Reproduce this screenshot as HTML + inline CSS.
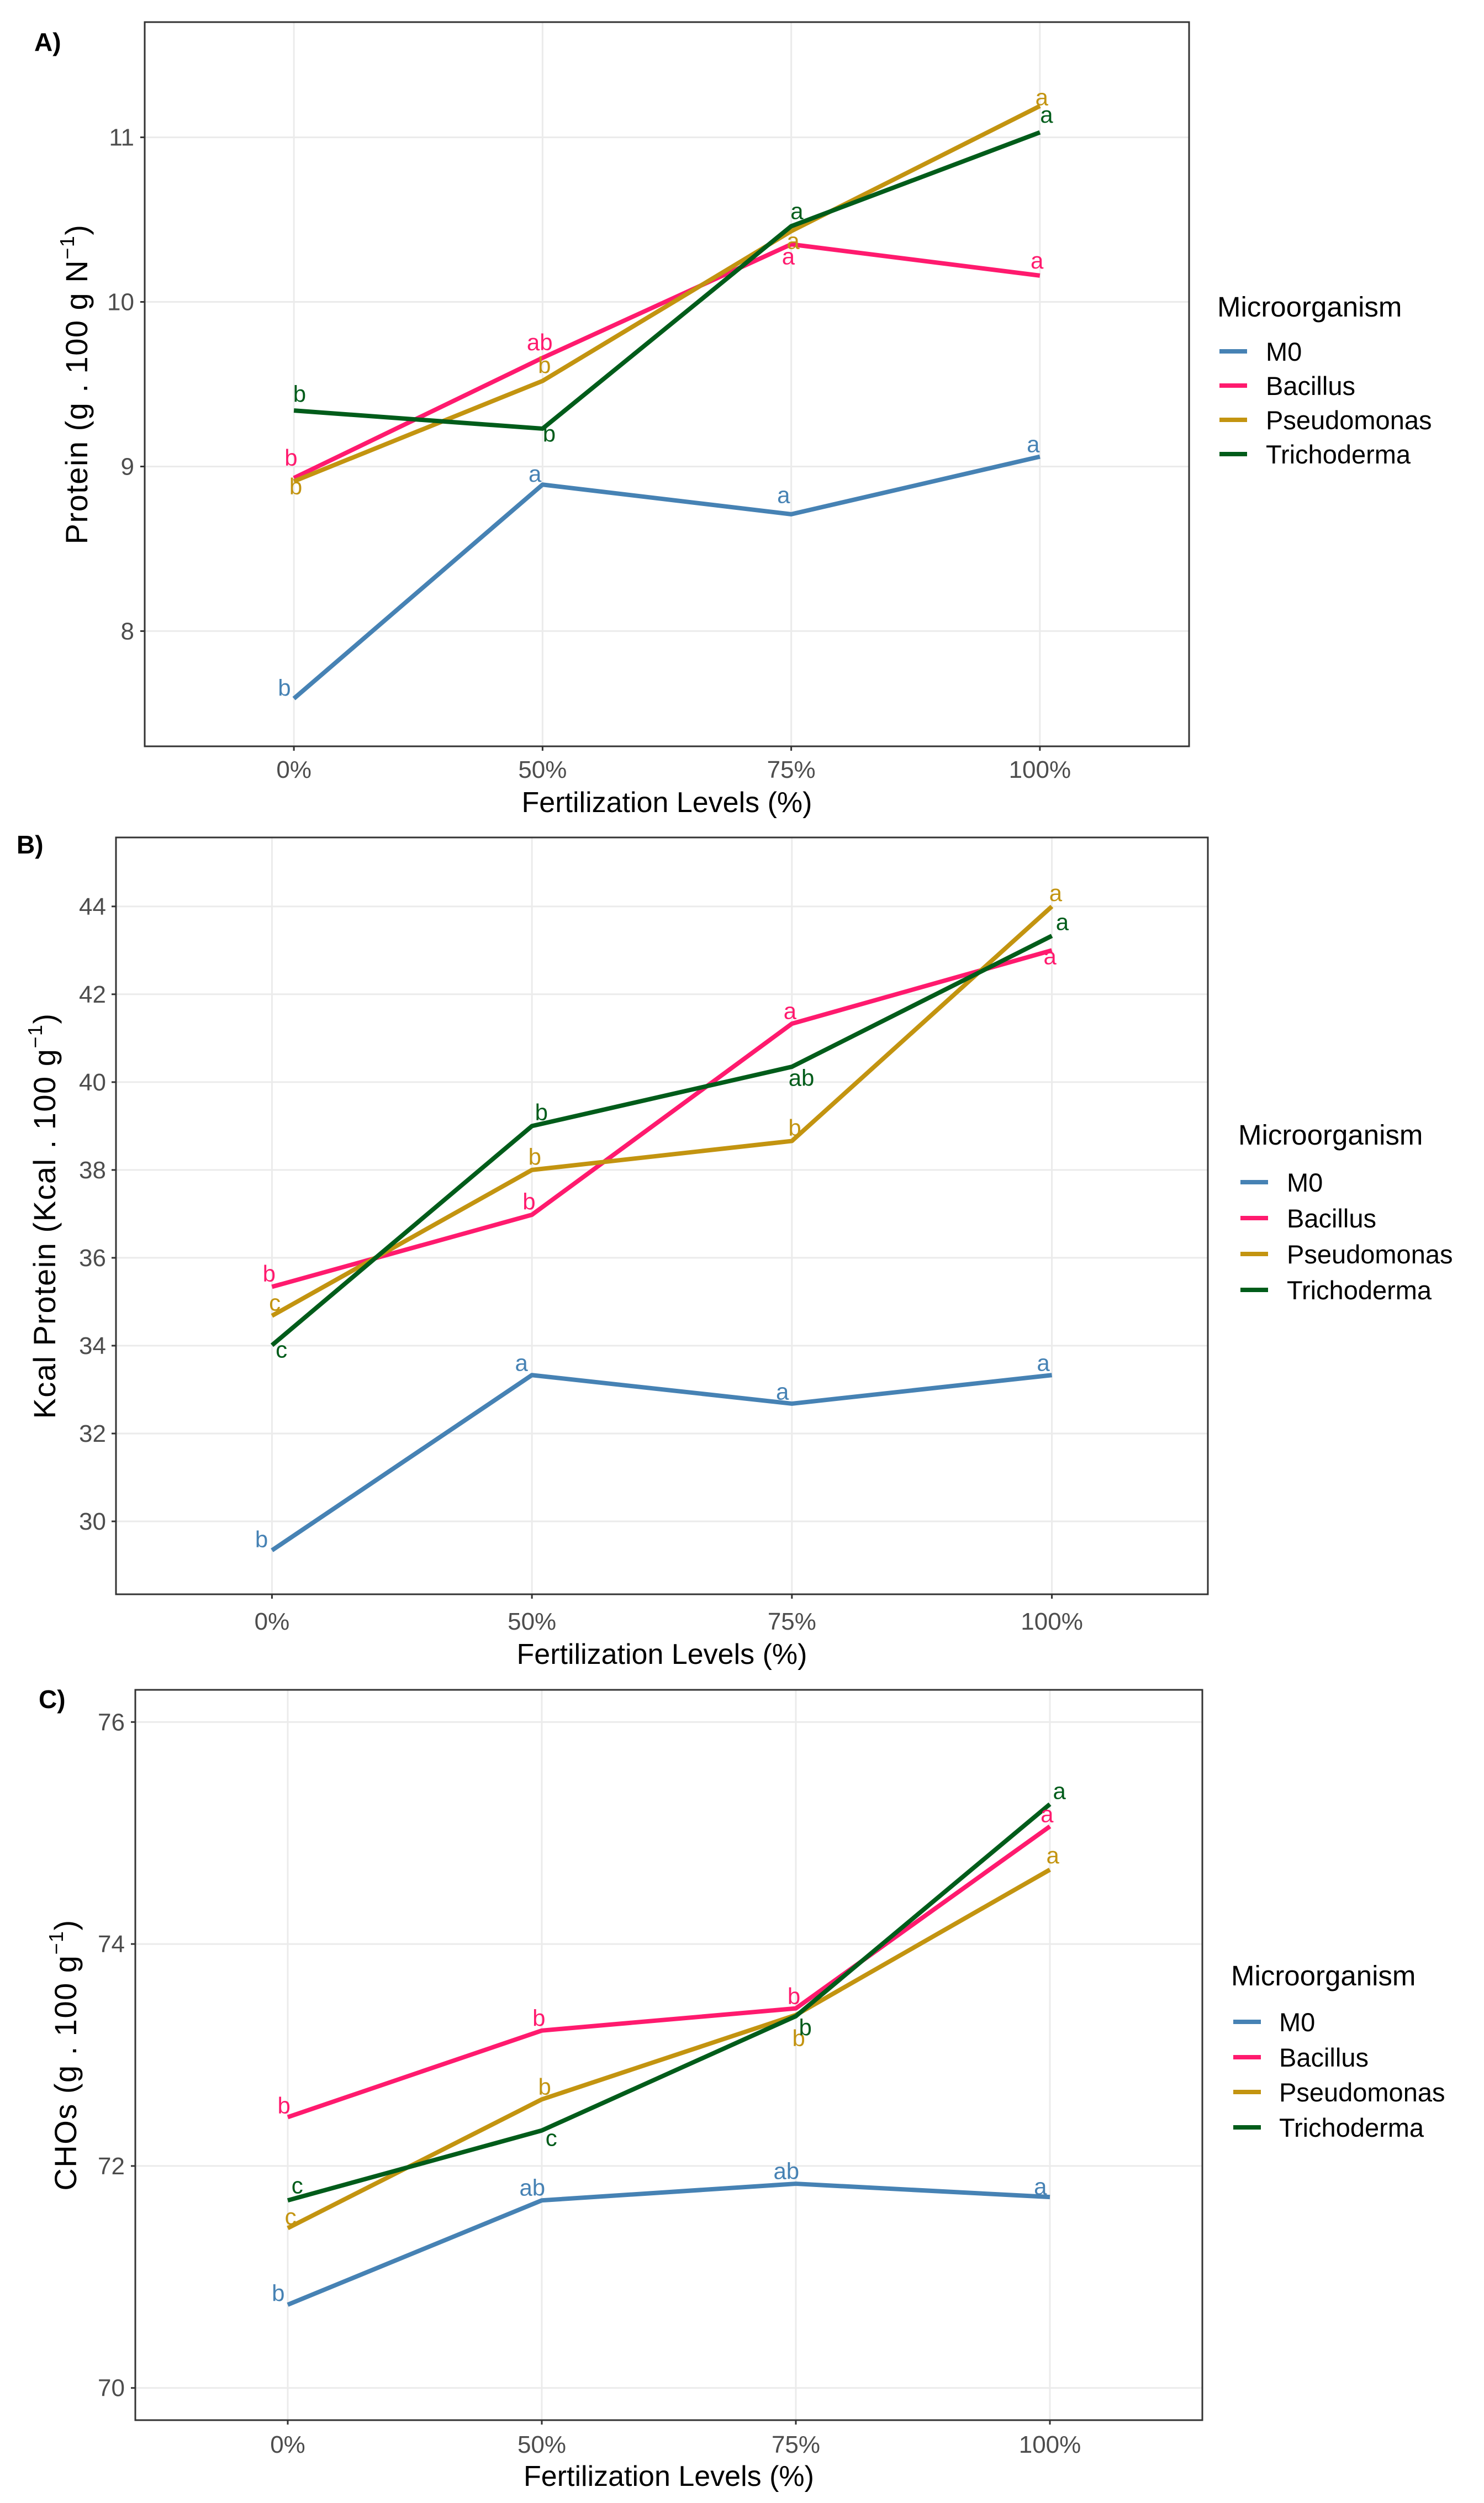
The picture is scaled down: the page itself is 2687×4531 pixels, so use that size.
<!DOCTYPE html>
<html>
<head>
<meta charset="utf-8">
<style>
html,body{margin:0;padding:0;background:#fff;}
svg{display:block;font-family:"Liberation Sans",Arial,sans-serif;}
</style>
</head>
<body>
<svg id="fig" width="2687" height="4531" viewBox="0 0 2687 4531" xmlns="http://www.w3.org/2000/svg"></svg>
<script>
// ---- shared data ----
const categories = ["0%", "50%", "75%", "100%"];
const seriesNames = ["M0", "Bacillus", "Pseudomonas", "Trichoderma"];
const seriesColors = ["#4682b4", "#ff1a6e", "#c39410", "#005c1a"];

// Panel A: Protein
const protA_M0 = [7.59, 8.89, 8.71, 9.06];
const protA_Bac = [8.93, 9.66, 10.35, 10.16];
const protA_Pse = [8.91, 9.52, 10.43, 11.19];
const protA_Tri = [9.34, 9.23, 10.46, 11.03];
const protA_letters = [["b","a","a","a"],["b","ab","a","a"],["b","b","a","a"],["b","b","a","a"]];
const protA_ticks = [8, 9, 10, 11];

// Panel B: Kcal protein
const kcalB_M0 = [29.34, 33.33, 32.68, 33.33];
const kcalB_Bac = [35.34, 36.98, 41.33, 43.0];
const kcalB_Pse = [34.68, 38.0, 38.66, 44.0];
const kcalB_Tri = [34.01, 39.0, 40.35, 43.33];
const kcalB_letters = [["b","a","a","a"],["b","b","a","a"],["c","b","b","a"],["c","b","ab","a"]];
const kcalB_ticks = [30, 32, 34, 36, 38, 40, 42, 44];

// Panel C: CHOs
const choC_M0 = [70.75, 71.69, 71.84, 71.72];
const choC_Bac = [72.44, 73.22, 73.42, 75.06];
const choC_Pse = [71.44, 72.60, 73.36, 74.67];
const choC_Tri = [71.69, 72.32, 73.35, 75.26];
const choC_letters = [["b","ab","ab","a"],["b","b","b","a"],["c","b","b","a"],["c","c","b","a"]];
const choC_ticks = [70, 72, 74, 76];

const NS = "http://www.w3.org/2000/svg";
const svg = document.getElementById("fig");
function mk(tag, attrs, parent, text){
  const e = document.createElementNS(NS, tag);
  for (const k in attrs) e.setAttribute(k, attrs[k]);
  if (text !== undefined) e.textContent = text;
  (parent || svg).appendChild(e);
  return e;
}

const panels = [
  {key:"a", label:"A)", labelPos:[62,92], box:[262,40,2153,1351], ymin:7.30, ymax:11.70,
   series:[protA_M0, protA_Bac, protA_Pse, protA_Tri], letters:protA_letters, ticks:protA_ticks,
   ytitle:["Protein (g . 100 g N","−1",")"], ytitleX:138, xtitleY:1470, tickY:1408, ytickX:243,
   legend:{x:2204, titleY:573, ys:[636,698,760,822], keyX:2208, labX:2292},
   sy:0.96,
   off:[[[-10,-20],[-8,-20],[-8,-36],[-7,-23]],
        [[-3,-38],[-3,-29],[-3,23],[-3,-28]],
        [[2,10],[2,-29],[2,19],[2,-16]],
        [[6,-31],[7,10],[6,-28],[7,-33]]]},
  {key:"b", label:"B)", labelPos:[30,1545], box:[210,1516,2187,2886], ymin:28.34, ymax:45.57,
   series:[kcalB_M0, kcalB_Bac, kcalB_Pse, kcalB_Tri], letters:kcalB_letters, ticks:kcalB_ticks,
   ytitle:["Kcal Protein (Kcal . 100 g","−1",")"], ytitleX:80, xtitleY:3012, tickY:2950, ytickX:192,
   legend:{x:2242, titleY:2072, ys:[2140,2205,2270,2335], keyX:2246, labX:2330},
   sy:1.026,
   off:[[[-11,-19],[-11,-21],[-10,-21],[-9,-21]],
        [[-3,-23],[-3,-23],[-2,-22],[-2,11]],
        [[3,-23],[3,-23],[3,-23],[4,-23]],
        [[10,8],[10,-24],[10,20],[11,-24]]]},
  {key:"c", label:"C)", labelPos:[70,3092], box:[245,3059,2177,4381], ymin:69.71, ymax:76.29,
   series:[choC_M0, choC_Bac, choC_Pse, choC_Tri], letters:choC_letters, ticks:choC_ticks,
   ytitle:["CHOs (g . 100 g","−1",")"], ytitleX:118, xtitleY:4500, tickY:4440, ytickX:226,
   legend:{x:2229, titleY:3594, ys:[3660,3724,3787,3851], keyX:2233, labX:2316},
   sy:0.98,
   off:[[[-10,-21],[-10,-23],[-10,-23],[-10,-19]],
        [[-4,-21],[-3,-23],[-2,-22],[-3,-22]],
        [[3,-21],[3,-23],[3,43],[3,-26]],
        [[10,-27],[10,14],[10,21],[10,-24]]]}
];

panels.forEach(p => {
  const [x0,y0,x1,y1] = p.box;
  const g = mk("g", {});
  
  
  const n = categories.length;
  const step = (x1 - x0) / (n - 1 + 1.2);
  const xScale = i => x0 + step * (0.6 + i);
  const yScale = v => y1 - (v - p.ymin) / (p.ymax - p.ymin) * (y1 - y0);

  p.ticks.forEach(t => {
    const l = mk("line", {x1:x0, x2:x1, y1:yScale(t), y2:yScale(t), stroke:"#ebebeb", "stroke-width":3}, g);
    
    
  });
  categories.forEach((c,i) => {
    const l = mk("line", {x1:xScale(i), x2:xScale(i), y1:y0, y2:y1, stroke:"#ebebeb", "stroke-width":3}, g);
    
    
  });

  p.series.forEach((vals, s) => {
    const pts = vals.map((v,i) => xScale(i) + "," + yScale(v)).join(" ");
    const pl = mk("polyline", {points:pts, fill:"none", stroke:seriesColors[s], "stroke-width":8, "stroke-linejoin":"round"}, g);
    
    
  });
  p.series.forEach((vals, s) => {
    vals.forEach((v,i) => {
      const o = p.off[s][i];
      const t = mk("text", {x:xScale(i) + o[0]*1.72, y:yScale(v) + o[1]*p.sy + 14, fill:seriesColors[s], "font-size":42, "text-anchor":"middle"}, g, p.letters[s][i]);
      
      
    });
  });

  const b = mk("rect", {x:x0, y:y0, width:x1-x0, height:y1-y0, fill:"none", stroke:"#333333", "stroke-width":3}, g);
  
  

  p.ticks.forEach(t => {
    const tk = mk("line", {x1:x0-8, x2:x0, y1:yScale(t), y2:yScale(t), stroke:"#333", "stroke-width":3}, g);
    
    
    const tl = mk("text", {x:p.ytickX, y:yScale(t)+15, fill:"#4d4d4d", "font-size":44, "text-anchor":"end"}, g, String(t));
    
    
  });
  categories.forEach((c,i) => {
    const tk = mk("line", {x1:xScale(i), x2:xScale(i), y1:y1, y2:y1+8, stroke:"#333", "stroke-width":3}, g);
    
    
    const tl = mk("text", {x:xScale(i), y:p.tickY, fill:"#4d4d4d", "font-size":44, "text-anchor":"middle"}, g, c);
    
    
  });

  const xt = mk("text", {x:(x0+x1)/2, y:p.xtitleY, fill:"#000", "font-size":52, "text-anchor":"middle"}, g, "Fertilization Levels (%)");
  
  
  const cy = (y0+y1)/2;
  const yt = mk("text", {x:0, y:0, fill:"#000", "font-size":56, "letter-spacing":1.5, "text-anchor":"middle", transform:"translate(" + (p.ytitleX+20) + "," + cy + ") rotate(-90)"}, g);
  
  
  mk("tspan", {}, yt, p.ytitle[0]);
  mk("tspan", {dy:-24, "font-size":36}, yt, p.ytitle[1]);
  mk("tspan", {dy:24}, yt, p.ytitle[2]);

  const pl = mk("text", {x:p.labelPos[0], y:p.labelPos[1], fill:"#000", "font-size":46, "font-weight":"bold"}, g, p.label);
  
  

  const lg = mk("g", {}, g);
  
  
  const lt = mk("text", {x:p.legend.x, y:p.legend.titleY, fill:"#000", "font-size":51}, lg, "Microorganism");
  
  
  seriesNames.forEach((nm, s) => {
    const yy = p.legend.ys[s];
    const kl = mk("line", {x1:p.legend.keyX, x2:p.legend.keyX+50, y1:yy, y2:yy, stroke:seriesColors[s], "stroke-width":8}, lg);
    
    
    const tx = mk("text", {x:p.legend.labX, y:yy+17, fill:"#000", "font-size":47}, lg, nm);
    
    
  });
});
</script>
</body>
</html>
